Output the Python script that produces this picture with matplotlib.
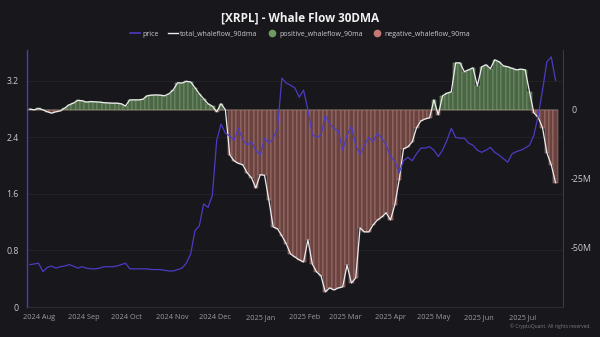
import numpy as np
import pandas as pd
import matplotlib
matplotlib.use("Agg")
import matplotlib.pyplot as plt
import matplotlib.dates as mdates
from matplotlib.lines import Line2D

plt.rcParams["font.family"] = ["Open Sans", "DejaVu Sans"]

# ---------------- data ----------------
start_date = "2024-07-26"
step_days = 3

# total whale flow (90dma), millions
total_whaleflow_m = [
    0.25, 0.0, 0.5, 0.0, -0.7, -1.2, -0.7, -0.4, 0.6, 1.8,
    2.4, 3.4, 3.3, 2.8, 3.0, 2.9, 2.8, 2.6, 2.5, 2.4,
    2.4, 2.2, 1.4, 3.6, 3.6, 3.6, 3.8, 5.1, 5.3, 5.4,
    5.3, 5.1, 5.8, 7.2, 9.8, 9.7, 10.3, 10.1, 8.0, 5.8,
    4.0, 2.2, 1.3, -0.7, 2.2, 0.0, -16.3, -18.5, -19.4, -19.9,
    -22.8, -24.6, -28.3, -23.5, -23.7, -32.6, -42.4, -43.1, -45.6, -48.5,
    -52.2, -53.3, -54.3, -55.1, -47.1, -55.8, -58.7, -60.1, -65.9, -64.5,
    -65.2, -64.5, -64.1, -56.2, -62.7, -60.9, -42.8, -44.2, -44.2, -41.7,
    -39.9, -38.8, -37.3, -39.9, -34.4, -25.4, -14.1, -13.4, -11.6, -6.5,
    -4.0, -3.3, -2.9, 3.6, -1.8, 5.1, 6.0, 6.5, 17.0, 17.0,
    13.8, 14.5, 15.2, 8.7, 15.6, 16.3, 14.9, 18.1, 17.4, 15.9,
    15.6, 15.0, 14.5, 14.7, 14.5, 6.5, -1.1, -2.7, -6.5, -15.6,
    -19.9, -26.4,
]

# XRP price, USD
price = [
    0.60, 0.61, 0.62, 0.50, 0.56, 0.58, 0.55, 0.57, 0.58, 0.60,
    0.58, 0.55, 0.57, 0.55, 0.54, 0.54, 0.55, 0.57, 0.57, 0.57,
    0.58, 0.60, 0.62, 0.54, 0.54, 0.54, 0.54, 0.54, 0.53, 0.53,
    0.53, 0.52, 0.51, 0.51, 0.53, 0.55, 0.62, 0.75, 1.08, 1.15,
    1.46, 1.41, 1.58, 2.36, 2.59, 2.46, 2.42, 2.36, 2.53, 2.37,
    2.29, 2.34, 2.22, 2.15, 2.39, 2.32, 2.39, 2.53, 3.24, 3.17,
    3.14, 3.10, 2.97, 3.07, 2.79, 2.44, 2.40, 2.43, 2.71, 2.60,
    2.53, 2.49, 2.22, 2.43, 2.56, 2.29, 2.16, 2.29, 2.40, 2.34,
    2.46, 2.39, 2.29, 2.13, 2.07, 1.90, 2.07, 2.12, 2.07, 2.17,
    2.25, 2.25, 2.27, 2.22, 2.13, 2.22, 2.36, 2.53, 2.40, 2.39,
    2.39, 2.32, 2.29, 2.22, 2.19, 2.22, 2.26, 2.19, 2.15, 2.10,
    2.05, 2.17, 2.20, 2.22, 2.25, 2.29, 2.43, 2.71, 3.07, 3.47,
    3.54, 3.21,
]

left_ticks = [0, 0.8, 1.6, 2.4, 3.2]
left_tick_labels = ["0", "0.8", "1.6", "2.4", "3.2"]
right_ticks = [0, -25, -50]
right_tick_labels = ["0", "-25M", "-50M"]

# ---------------- styling ----------------
BG = "#17171c"
TXT = "#c9c9cf"
PRICE_C = "#4b3bc4"
FLOW_C = "#ececec"
POS_FACE, POS_EDGE = "#4a6645", "#8aa882"
NEG_FACE, NEG_EDGE = "#6a4341", "#bf8e86"

dates = pd.date_range(start_date, periods=len(price), freq=f"{step_days}D")
flow = np.array(total_whaleflow_m)
positive = np.clip(flow, 0, None)
negative = np.clip(flow, None, 0)

fig = plt.figure(figsize=(6.0, 3.37), dpi=100, facecolor=BG)
ax = fig.add_axes([0.045, 0.089, 0.893, 0.763])
ax2 = ax.twinx()
ax.set_zorder(ax2.get_zorder() + 1)
ax.patch.set_visible(False)
ax2.set_facecolor(BG)

# faint horizontal grid at the price ticks, behind the bars
ax2.hlines(left_ticks, 0, 1, transform=ax.get_yaxis_transform(),
           color="#24242b", lw=0.6, zorder=0)

# flow bars
w = pd.Timedelta(days=step_days)
ax2.bar(dates, positive, width=w, align="center", color=POS_FACE,
        edgecolor=POS_EDGE, linewidth=0.35, zorder=2)
ax2.bar(dates, negative, width=w, align="center", color=NEG_FACE,
        edgecolor=NEG_EDGE, linewidth=0.35, zorder=2)
ax2.plot(dates, flow, color=FLOW_C, lw=0.9, zorder=4)

# price
ax.plot(dates, price, color=PRICE_C, lw=0.9, zorder=3)

# axes limits
ax.set_xlim(pd.Timestamp("2024-07-24"), pd.Timestamp("2025-07-29"))
ax.set_ylim(0, 3.64)
ax2.set_ylim(-71.4, 21.7)

ax.set_yticks(left_ticks)
ax.set_yticklabels(left_tick_labels)
ax2.set_yticks(right_ticks)
ax2.set_yticklabels(right_tick_labels)

ax.xaxis.set_major_locator(mdates.MonthLocator())
ax.xaxis.set_major_formatter(mdates.DateFormatter("%Y %b"))

for a in (ax, ax2):
    a.tick_params(colors=TXT, labelsize=6.3, length=0, pad=6)
    for s in a.spines.values():
        s.set_visible(False)
ax.tick_params(axis="x", labelsize=5.3, pad=5, labelcolor="#9a9aa2")
ax.spines["left"].set_visible(True)
ax.spines["left"].set_color(PRICE_C)
ax.spines["left"].set_linewidth(1.0)
ax2.spines["right"].set_visible(True)
ax2.spines["right"].set_color("#3a3a42")
ax2.spines["bottom"].set_visible(True)
ax2.spines["bottom"].set_color("#2c2c33")

fig.text(0.5, 0.947, "[XRPL] - Whale Flow 30DMA", ha="center", va="center",
         color="#f0f0f0", fontsize=8.5, fontweight="bold")

handles = [
    Line2D([], [], color=PRICE_C, lw=1.2, label="price"),
    Line2D([], [], color=FLOW_C, lw=1.0, label="total_whaleflow_90dma"),
    Line2D([], [], marker="o", ls="", markersize=4.5, color="#6e9a62",
           label="positive_whaleflow_90ma"),
    Line2D([], [], marker="o", ls="", markersize=4.5, color="#c47a72",
           label="negative_whaleflow_90ma"),
]
fig.legend(handles=handles, loc="center", bbox_to_anchor=(0.5, 0.899), ncol=4,
           frameon=False, fontsize=5, labelcolor=TXT, handlelength=1.4,
           handletextpad=0.4, columnspacing=1.3)

fig.text(0.85, 0.033, "© CryptoQuant. All rights reserved.", ha="left",
         va="center", color="#7a7a82", fontsize=3.6)

fig.savefig("out.png", dpi=100, facecolor=BG)
